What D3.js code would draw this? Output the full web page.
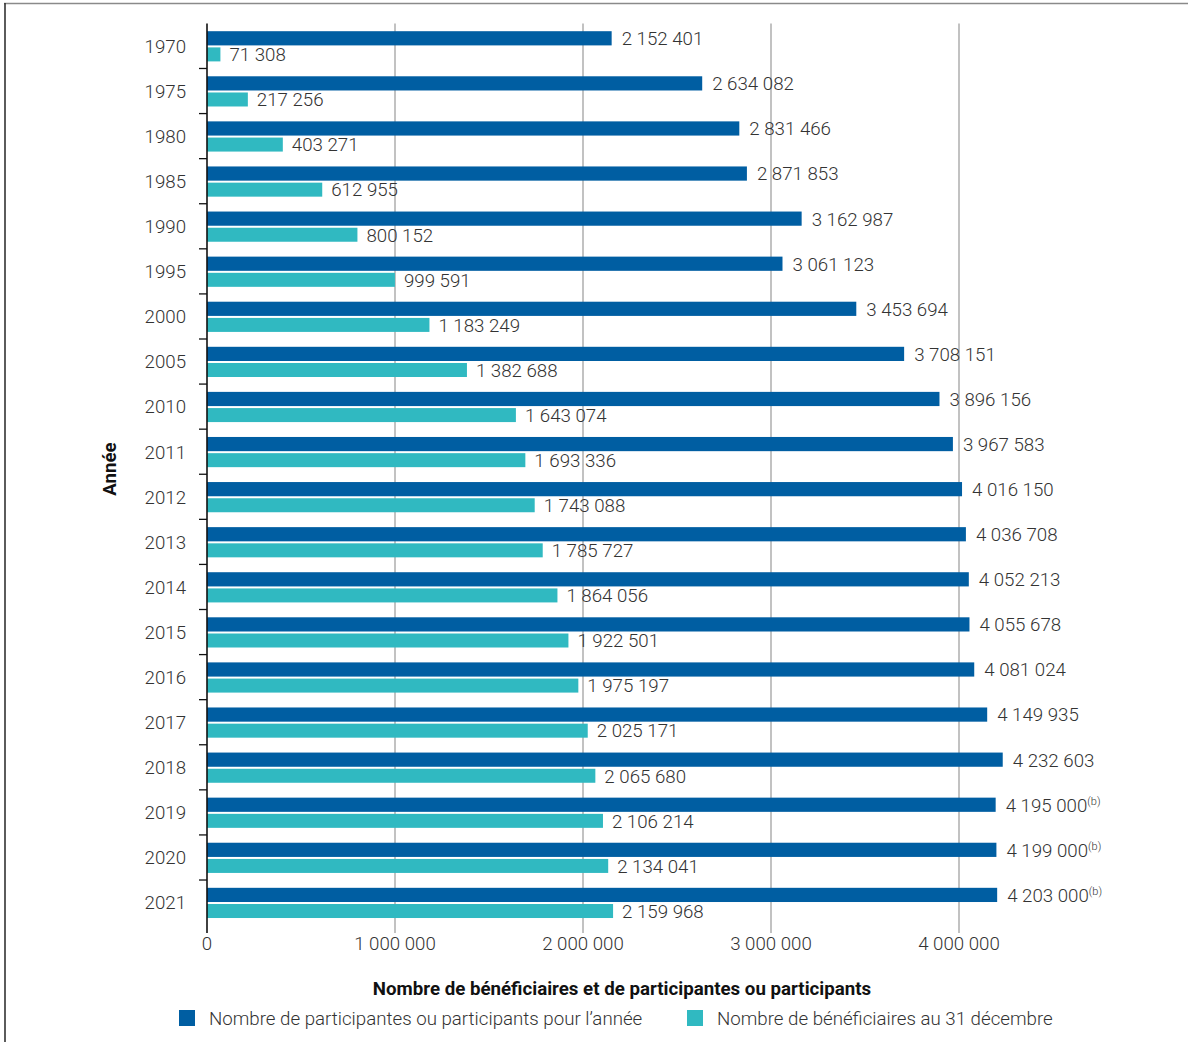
<!DOCTYPE html>
<html lang="fr">
<head>
<meta charset="utf-8">
<script src="https://cdn.jsdelivr.net/npm/d3@7"></script>
<style>
  html, body { margin: 0; padding: 0; background: #fff; }
  svg { display: block; font-family: Roboto, "Noto Sans", sans-serif; }
</style>
</head>
<body>
<svg id="chart" width="1188" height="1042"></svg>
<script>
// Années
const years = ["1970","1975","1980","1985","1990","1995","2000","2005","2010","2011",
  "2012","2013","2014","2015","2016","2017","2018","2019","2020","2021"];
// Nombre de participantes ou participants pour l'année
const participants = [2152401, 2634082, 2831466, 2871853, 3162987, 3061123, 3453694,
  3708151, 3896156, 3967583, 4016150, 4036708, 4052213, 4055678, 4081024, 4149935,
  4232603, 4195000, 4199000, 4203000];
// Valeurs estimées, marquées d'une note (b)
const estimated = ["2019", "2020", "2021"];
// Nombre de bénéficiaires au 31 décembre
const beneficiaires = [71308, 217256, 403271, 612955, 800152, 999591, 1183249, 1382688,
  1643074, 1693336, 1743088, 1785727, 1864056, 1922501, 1975197, 2025171, 2065680,
  2106214, 2134041, 2159968];
const xTicks = [0, 1000000, 2000000, 3000000, 4000000];
const seriesNames = ["Nombre de participantes ou participants pour l\u2019ann\u00e9e",
  "Nombre de b\u00e9n\u00e9ficiaires au 31 d\u00e9cembre"];
const colors = ["#005ea2", "#30b9c1"];

const fr = d3.formatLocale({ decimal: ",", thousands: " ", grouping: [3], currency: ["", " $"] });
const fmt = fr.format(",d");

const FS = 18.7;
const svg = d3.select("#chart");

// frame
svg.append("line").attr("x1", 4).attr("x2", 1188).attr("y1", 3.5).attr("y2", 3.5)
  .attr("stroke", "#8a8a8a").attr("stroke-width", 1.6);
svg.append("line").attr("x1", 5).attr("x2", 5).attr("y1", 3).attr("y2", 1042)
  .attr("stroke", "#333").attr("stroke-width", 1.6);

const plotLeft = 207, plotTop = 23.4, plotBottom = 925.1;
const x = d3.scaleLinear().domain([0, 1000000]).range([plotLeft, plotLeft + 188]);
const y = d3.scaleBand().domain(years).range([plotTop, plotBottom]).padding(0);
const bw = y.bandwidth();

// gridlines (extend below as ticks)
svg.append("g").selectAll("line").data(xTicks.filter(d => d > 0)).join("line")
  .attr("x1", d => x(d)).attr("x2", d => x(d))
  .attr("y1", plotTop).attr("y2", plotBottom + 8)
  .attr("stroke", "#a8a8a8").attr("stroke-width", 1.4);

// x tick labels
svg.append("g").selectAll("text").data(xTicks).join("text")
  .attr("x", d => x(d)).attr("y", 949.8)
  .attr("text-anchor", "middle")
  .attr("font-size", FS).attr("font-weight", 300).attr("fill", "#333")
  .text(d => d === 0 ? "0" : fmt(d));

// bars
const rows = years.map((yr, i) => ({ yr, p: participants[i], b: beneficiaires[i] }));
const g = svg.append("g");
g.selectAll("rect.p").data(rows).join("rect").attr("class", "p")
  .attr("x", x(0)).attr("y", d => y(d.yr) + 7.8)
  .attr("width", d => x(d.p) - x(0)).attr("height", 14.2)
  .attr("fill", colors[0]);
g.selectAll("rect.b").data(rows).join("rect").attr("class", "b")
  .attr("x", x(0)).attr("y", d => y(d.yr) + 24)
  .attr("width", d => x(d.b) - x(0)).attr("height", 14)
  .attr("fill", colors[1]);

// value labels
const lab = svg.append("g").attr("font-size", FS).attr("font-weight", 300).attr("fill", "#333");
const pl = lab.selectAll("text.p").data(rows).join("text").attr("class", "p")
  .attr("x", d => x(d.p) + 10).attr("y", d => y(d.yr) + 15.2 + 6.6);
pl.append("tspan").text(d => fmt(d.p));
pl.filter(d => estimated.includes(d.yr)).append("tspan")
  .attr("font-size", 11).attr("dy", -7).text("(b)");
lab.selectAll("text.b").data(rows).join("text").attr("class", "b")
  .attr("x", d => x(d.b) + 9).attr("y", d => y(d.yr) + 31.2 + 6.6)
  .text(d => fmt(d.b));

// y axis
svg.append("line").attr("x1", plotLeft).attr("x2", plotLeft).attr("y1", plotTop).attr("y2", plotBottom + 8)
  .attr("stroke", "#111").attr("stroke-width", 1.6);
svg.append("g").selectAll("line").data(years.slice(1)).join("line")
  .attr("x1", plotLeft - 8).attr("x2", plotLeft)
  .attr("y1", d => y(d)).attr("y2", d => y(d))
  .attr("stroke", "#111").attr("stroke-width", 1.3);
svg.append("g").selectAll("text").data(years).join("text")
  .attr("x", 186).attr("y", d => y(d) + bw / 2 + 6.8)
  .attr("text-anchor", "end")
  .attr("font-size", FS).attr("font-weight", 300).attr("fill", "#333")
  .text(d => d);

// axis titles
svg.append("text")
  .attr("transform", "translate(116,469) rotate(-90)")
  .attr("text-anchor", "middle")
  .attr("font-size", FS).attr("font-weight", 700).attr("fill", "#111")
  .text("Ann\u00e9e");
svg.append("text")
  .attr("x", 622).attr("y", 994.5)
  .attr("text-anchor", "middle")
  .attr("font-size", FS).attr("font-weight", 700).attr("fill", "#111")
  .text("Nombre de b\u00e9n\u00e9ficiaires et de participantes ou participants");

// legend
const legX = [179, 687];
const leg = svg.append("g").selectAll("g").data(seriesNames).join("g")
  .attr("transform", (d, i) => `translate(${legX[i]},1010)`);
leg.append("rect").attr("width", 16).attr("height", 16).attr("fill", (d, i) => colors[i]);
leg.append("text").attr("x", 30).attr("y", 14.8)
  .attr("font-size", FS).attr("font-weight", 300).attr("fill", "#333")
  .text(d => d);
</script>
</body>
</html>
